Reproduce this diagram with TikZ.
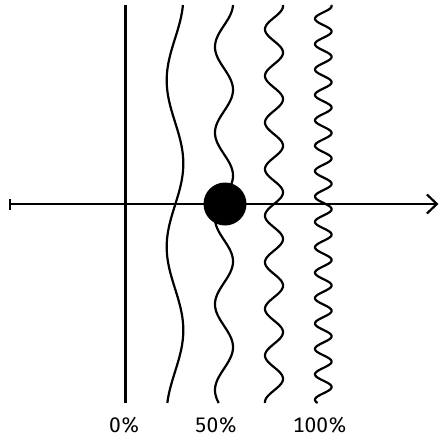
\documentclass[tikz,border=0pt]{standalone}
\usepackage{fontspec}
\newfontfamily\labelfont[Numbers=Monospaced]{Fira Sans}
\usetikzlibrary{arrows.meta}
\begin{document}
\begin{tikzpicture}[x=1pt,y=-1pt,
  stroke/.style={line width=2.2pt},
  wave/.style={stroke, line join=round},
  pct/.style={font=\labelfont\fontsize{21}{25}\selectfont, inner sep=0pt, anchor=center}]
\useasboundingbox (0,0) rectangle (444,439);
% axis
\coordinate (axL) at (9,204);
\coordinate (axR) at (438.5,204);
\draw[stroke, {Bar[width=11pt,line width=2.2pt]}-{Straight Barb[length=10pt,width=19pt,line width=2.2pt]}] (axL) -- (axR);
% straight line (0%)
\coordinate (s0t) at (125.5,5);
\coordinate (s0b) at (125.5,403);
\draw[stroke] (s0t) -- (s0b);
% waves
\draw[wave] plot[domain=5:403, samples=400] ({175+8.3*cos(2.1609*(\x+3))}, \x);
\draw[wave] plot[domain=5:403, samples=500] ({224+9*cos(4.1958*(\x-4))}, \x);
\draw[wave] plot[domain=5:403, samples=700] ({274+9*cos(7.7253*(\x-6))}, \x);
\draw[wave] plot[domain=5:403, samples=900] ({323.3+8.3*cos(14.173*(\x-6))}, \x);
% ball
\node[circle, fill=black, minimum size=43pt, inner sep=0pt] (ball) at (225,204) {};
% labels
\node[pct] (l0) at (124.5,425) {0\%};
\node[pct] (l50) at (216,425) {50\%};
\node[pct] (l100) at (320,425) {100\%};
\end{tikzpicture}
\end{document}
